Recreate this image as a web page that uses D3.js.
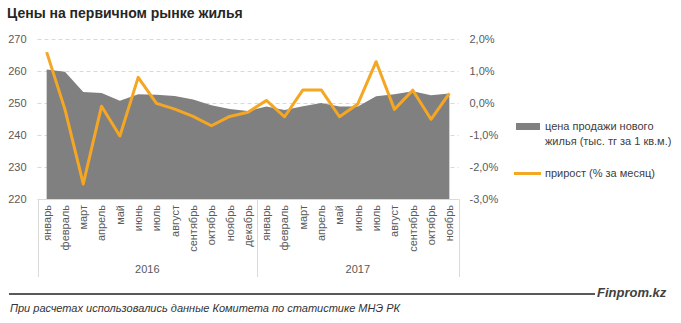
<!DOCTYPE html>
<html><head><meta charset="utf-8">
<script src="https://cdn.jsdelivr.net/npm/d3@7"></script>
<style>body{margin:0;background:#fff;}svg{display:block;font-family:"Liberation Sans",Arial,sans-serif;}</style>
</head><body><svg id="c" width="681" height="323"></svg>
<script>
const months = ["январь","февраль","март","апрель","май","июнь","июль","август","сентябрь","октябрь","ноябрь","декабрь",
                "январь","февраль","март","апрель","май","июнь","июль","август","сентябрь","октябрь","ноябрь"];
const years = [{label:"2016", start:0, end:12},{label:"2017", start:12, end:23}];
const price = [260.5,259.8,253.4,253.1,250.7,252.7,252.6,252.2,251.1,249.3,248.1,247.5,
               248.9,247.8,249.0,250.0,248.9,248.9,252.1,252.7,253.7,252.4,253.0];
const growth = [1.59,-0.20,-2.53,-0.10,-1.03,0.80,-0.01,-0.19,-0.42,-0.71,-0.42,-0.29,
                0.08,-0.43,0.41,0.41,-0.43,-0.03,1.29,-0.20,0.40,-0.51,0.30];
const leftTicks = [220,230,240,250,260,270];
const rightTicks = [-3,-2,-1,0,1,2];
const seriesNames = ["цена продажи нового","жилья (тыс. тг за 1 кв.м.)","прирост (% за месяц)"];

const svg = d3.select("#c");
const L = 37.5, R = 458.5, T = 39, B = 199;
const x = d3.scaleBand().domain(d3.range(months.length)).range([L, R]);
const cx = i => x(i) + x.bandwidth()/2;
const yL = d3.scaleLinear().domain([220,270]).range([B,T]);
const yR = d3.scaleLinear().domain([-3,2]).range([B,T]);

// title
svg.append("text").attr("x",7).attr("y",18).attr("font-size",14).attr("font-weight","bold")
  .attr("fill","#262626").text("Цены на первичном рынке жилья");

// grid
svg.append("g").selectAll("line").data(leftTicks.filter(d=>d>220)).join("line")
  .attr("x1",L).attr("x2",R).attr("y1",d=>Math.round(yL(d))+0.5).attr("y2",d=>Math.round(yL(d))+0.5)
  .attr("stroke","#d9d9d9").attr("stroke-dasharray","4,3");

// area
const area = d3.area().x((d,i)=>cx(i)).y0(B).y1(d=>yL(d));
svg.append("path").datum(price).attr("d",area).attr("fill","#808080");

// line
const line = d3.line().x((d,i)=>cx(i)).y(d=>yR(d));
svg.append("path").datum(growth).attr("d",line).attr("fill","none")
  .attr("stroke","#f5a623").attr("stroke-width",3).attr("stroke-linejoin","round");

// left axis
const gl = svg.append("g").attr("transform",`translate(${L},0)`)
  .call(d3.axisLeft(yL).tickValues(leftTicks).tickSize(0).tickPadding(11));
gl.select(".domain").remove();
gl.selectAll("text").attr("font-size",11).attr("fill","#595959").attr("font-family","Liberation Sans, Arial, sans-serif");

// right axis
const gr = svg.append("g").attr("transform",`translate(${R},0)`)
  .call(d3.axisRight(yR).tickValues(rightTicks).tickSize(0).tickPadding(11)
    .tickFormat(d=>d.toFixed(1).replace(".",",")+"%"));
gr.select(".domain").remove();
gr.selectAll("text").attr("font-size",11).attr("fill","#595959").attr("font-family","Liberation Sans, Arial, sans-serif");

// category axis
svg.append("line").attr("x1",L).attr("x2",R).attr("y1",B+0.5).attr("y2",B+0.5).attr("stroke","#d9d9d9");
const bounds = [0,12,23];
svg.append("g").selectAll("line").data(bounds).join("line")
  .attr("x1",d=>Math.round(x(d)===undefined?R:x(d))+0.5)
  .attr("x2",d=>Math.round(x(d)===undefined?R:x(d))+0.5)
  .attr("y1",B).attr("y2",277).attr("stroke","#d9d9d9");
svg.append("g").selectAll("text").data(months).join("text")
  .attr("transform",(d,i)=>`translate(${cx(i)},205) rotate(-90)`)
  .attr("text-anchor","end").attr("dy","0.35em").attr("font-size",11).attr("fill","#595959").text(d=>d);
svg.append("g").selectAll("text").data(years).join("text")
  .attr("x",d=>(x(d.start) + (d.end<months.length?x(d.end):R))/2).attr("y",273)
  .attr("text-anchor","middle").attr("font-size",11).attr("fill","#595959").text(d=>d.label);

// legend
svg.append("rect").attr("x",516).attr("y",123).attr("width",24).attr("height",7).attr("fill","#808080");
svg.append("text").attr("x",545).attr("y",130).attr("font-size",11).attr("fill","#404040").text(seriesNames[0]);
svg.append("text").attr("x",545).attr("y",145).attr("font-size",11).attr("fill","#404040").text(seriesNames[1]);
svg.append("line").attr("x1",514).attr("x2",541).attr("y1",173.5).attr("y2",173.5).attr("stroke","#f5a623").attr("stroke-width",3);
svg.append("text").attr("x",545).attr("y",177).attr("font-size",11).attr("fill","#404040").text(seriesNames[2]);

// footer
svg.append("line").attr("x1",9).attr("x2",595).attr("y1",294).attr("y2",294).attr("stroke","#595959").attr("stroke-width",2);
svg.append("text").attr("x",597).attr("y",297).attr("font-size",13).attr("font-weight","bold").attr("font-style","italic")
  .attr("fill","#404040").text("Finprom.kz");
svg.append("text").attr("x",10).attr("y",312).attr("font-size",11).attr("font-style","italic")
  .attr("fill","#333").text("При расчетах использовались данные Комитета по статистике МНЭ РК");
</script></body></html>
